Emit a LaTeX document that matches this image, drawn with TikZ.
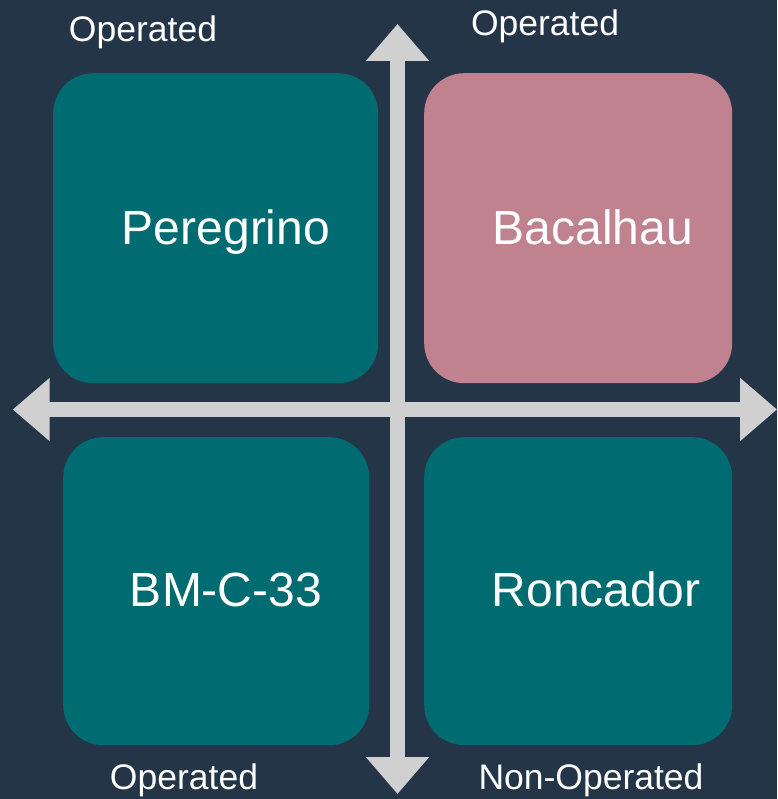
\documentclass[tikz,border=0pt]{standalone}
\usepackage{fontspec}
\setmainfont{Liberation Sans}
\usetikzlibrary{arrows.meta}
\definecolor{bg}{HTML}{233547}
\definecolor{teal}{HTML}{006B70}
\definecolor{pinkbox}{HTML}{C0828F}
\definecolor{axisgray}{HTML}{D0D0D0}
\begin{document}
\begin{tikzpicture}[x=1pt,y=-1pt,
  quad/.style={draw=none,rounded corners=40pt,anchor=north west,inner sep=0pt},
  quadtext/.style={text=white,font=\fontsize{48}{52}\selectfont,anchor=base,inner sep=0pt},
  axislabel/.style={text=white,font=\fontsize{35.5}{40}\selectfont,inner sep=0pt,anchor=base},
  axisline/.style={draw=axisgray,line width=15.5pt,{Triangle[width=61pt,length=37pt]}-{Triangle[width=61pt,length=37pt]}}
]
\fill[bg] (0,0) rectangle (777,799);
\useasboundingbox (0,0) rectangle (777,799);
% quadrant boxes
\node[quad,fill=teal,minimum width=325pt,minimum height=310pt] (pbox) at (53,73) {};
\node[quad,fill=pinkbox,minimum width=308pt,minimum height=310pt] (bbox) at (424,73) {};
\node[quad,fill=teal,minimum width=306pt,minimum height=308pt] (mbox) at (63,437) {};
\node[quad,fill=teal,minimum width=308pt,minimum height=308pt] (rbox) at (424,437) {};
\node[quadtext] (ptext) at (226,244) {Peregrino};
\node[quadtext] (btext) at (593,245) {Bacalhau};
\node[quadtext] (mtext) at (226,606) {BM-C-33};
\node[quadtext] (rtext) at (596,606) {Roncador};
% axes
\coordinate (L) at (12.7,409.5);
\coordinate (R) at (777,409.5);
\coordinate (T) at (397.5,24);
\coordinate (B) at (397.5,794);
\draw[axisline] (L) -- (R);
\draw[axisline] (T) -- (B);
% labels
\node[axislabel] (tl) at (143,42) {Operated};
\node[axislabel] (tr) at (545,36) {Operated};
\node[axislabel] (bl) at (184,789) {Operated};
\node[axislabel] (br) at (591,789) {Non-Operated};
\end{tikzpicture}
\end{document}
